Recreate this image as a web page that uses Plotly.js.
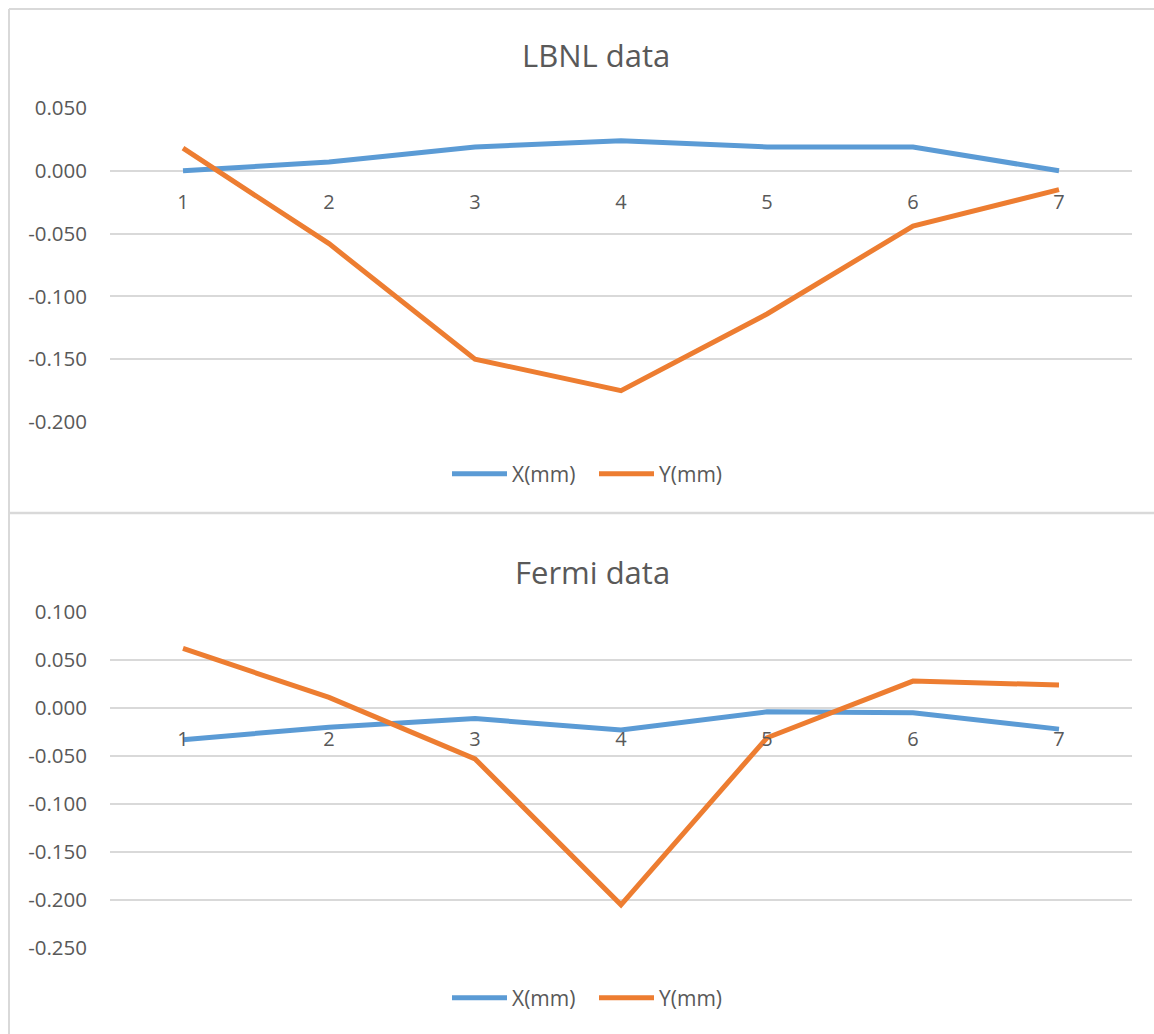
<!DOCTYPE html>
<html>
<head>
<meta charset="utf-8">
<script src="https://cdn.plot.ly/plotly-3.0.1.min.js"></script>
<style>html,body{margin:0;padding:0;background:#fff;}#chart{width:1154px;height:1034px;}</style>
</head>
<body>
<div id="chart"></div>
<script>
// ---- data ----
const categories = ["1", "2", "3", "4", "5", "6", "7"];
const seriesNames = ["X(mm)", "Y(mm)"];
const lbnlX = [0.000, 0.007, 0.019, 0.024, 0.019, 0.019, 0.000];
const lbnlY = [0.018, -0.058, -0.150, -0.175, -0.114, -0.044, -0.015];
const fermiX = [-0.033, -0.020, -0.011, -0.023, -0.004, -0.005, -0.022];
const fermiY = [0.062, 0.011, -0.053, -0.205, -0.031, 0.028, 0.024];
const lbnlTicks = [0.05, 0.0, -0.05, -0.1, -0.15, -0.2];
const fermiTicks = [0.1, 0.05, 0.0, -0.05, -0.1, -0.15, -0.2, -0.25];
const titles = ["LBNL data", "Fermi data"];

// ---- layout helpers ----
const W = 1154, H = 1034, ML = 110, MR = 22;
const PW = W - ML - MR;
const px2x = p => (p - ML) / PW;
const py2y = p => 1 - p / H;
const blue = "#5b9bd5", orange = "#ed7d31", grid = "#d9d9d9", txt = "#595959";
const FONT = "'Open Sans', 'Segoe UI', sans-serif";

const top1 = 108, bot1 = 422, top2 = 612, bot2 = 948;
const r1 = [Math.min(...lbnlTicks), Math.max(...lbnlTicks)];
const r2 = [Math.min(...fermiTicks), Math.max(...fermiTicks)];
const d1 = [py2y(bot1), py2y(top1)];
const d2 = [py2y(bot2), py2y(top2)];
const zeroPos = (d, r) => d[0] + (0 - r[0]) / (r[1] - r[0]) * (d[1] - d[0]);
const fmt = v => v.toFixed(3);

function line(x, y, name, color, xa, ya, legend) {
  return {x: x, y: y, name: name, type: "scatter", mode: "lines",
    line: {color: color, width: 5, shape: "linear"},
    xaxis: xa, yaxis: ya, legend: legend, showlegend: true, hoverinfo: "skip"};
}

const traces = [
  line(categories, lbnlX, seriesNames[0], blue, "x", "y", "legend"),
  line(categories, lbnlY, seriesNames[1], orange, "x", "y", "legend"),
  line(categories, fermiX, seriesNames[0], blue, "x2", "y2", "legend2"),
  line(categories, fermiY, seriesNames[1], orange, "x2", "y2", "legend2")
];

const xCommon = {type: "category", categoryorder: "array", categoryarray: categories,
  range: [-0.5, categories.length - 0.5], showgrid: false, zeroline: false,
  showline: false, ticks: "", ticklabelstandoff: 17,
  tickfont: {family: FONT, size: 20, color: txt}, fixedrange: true};
const yCommon = {showgrid: true, gridcolor: grid, gridwidth: 1.8, zeroline: true,
  zerolinecolor: grid, zerolinewidth: 1.8, showline: false, ticks: "",
  ticklabelstandoff: 22,
  tickfont: {family: FONT, size: 20.5, color: txt}, fixedrange: true};

const legCommon = {orientation: "h", xanchor: "left", yanchor: "middle",
  font: {family: FONT, size: 21, color: txt}, bgcolor: "rgba(0,0,0,0)",
  entrywidth: 102, entrywidthmode: "pixels"};

const layout = {
  width: W, height: H,
  margin: {l: ML, r: MR, t: 0, b: 0, pad: 0},
  paper_bgcolor: "#ffffff", plot_bgcolor: "#ffffff",
  font: {family: FONT, color: txt},
  xaxis: Object.assign({}, xCommon, {anchor: "free", position: zeroPos(d1, r1), domain: [0, 1]}),
  yaxis: Object.assign({}, yCommon, {domain: d1, range: r1, tickvals: lbnlTicks,
    ticktext: lbnlTicks.map(fmt), anchor: "x"}),
  xaxis2: Object.assign({}, xCommon, {anchor: "free", position: zeroPos(d2, r2), domain: [0, 1]}),
  yaxis2: Object.assign({}, yCommon, {domain: d2, range: r2, tickvals: fermiTicks,
    ticktext: fermiTicks.map(fmt), anchor: "x2"}),
  legend: Object.assign({}, legCommon, {x: px2x(472), y: py2y(474)}),
  legend2: Object.assign({}, legCommon, {x: px2x(472), y: py2y(998)}),
  annotations: [
    {text: titles[0], xref: "paper", yref: "paper", x: px2x(596), y: py2y(55),
      xanchor: "center", yanchor: "middle", showarrow: false,
      font: {family: FONT, size: 31, color: txt}},
    {text: titles[1], xref: "paper", yref: "paper", x: px2x(592), y: py2y(572),
      xanchor: "center", yanchor: "middle", showarrow: false,
      font: {family: FONT, size: 31, color: txt}}
  ],
  shapes: [
    {type: "line", xref: "paper", yref: "paper", x0: px2x(9), x1: px2x(1160), y0: py2y(9), y1: py2y(9),
      line: {color: grid, width: 2}},
    {type: "line", xref: "paper", yref: "paper", x0: px2x(9), x1: px2x(9), y0: py2y(9), y1: py2y(1040),
      line: {color: grid, width: 2}},
    {type: "line", xref: "paper", yref: "paper", x0: px2x(9), x1: px2x(1160), y0: py2y(513), y1: py2y(513),
      line: {color: grid, width: 2.5}}
  ]
};

Plotly.newPlot("chart", traces, layout, {staticPlot: true, displayModeBar: false}).then(gd => {
  // longer legend line samples, as in the reference
  gd.querySelectorAll(".legend .scrollbox, .legend2 .scrollbox").forEach(s => s.removeAttribute("clip-path"));
  gd.querySelectorAll("[clip-path*='legend']").forEach(s => s.removeAttribute("clip-path"));
  gd.querySelectorAll(".legendlines path").forEach(p => p.setAttribute("d", "M-20,0h55"));
});
</script>
</body>
</html>
